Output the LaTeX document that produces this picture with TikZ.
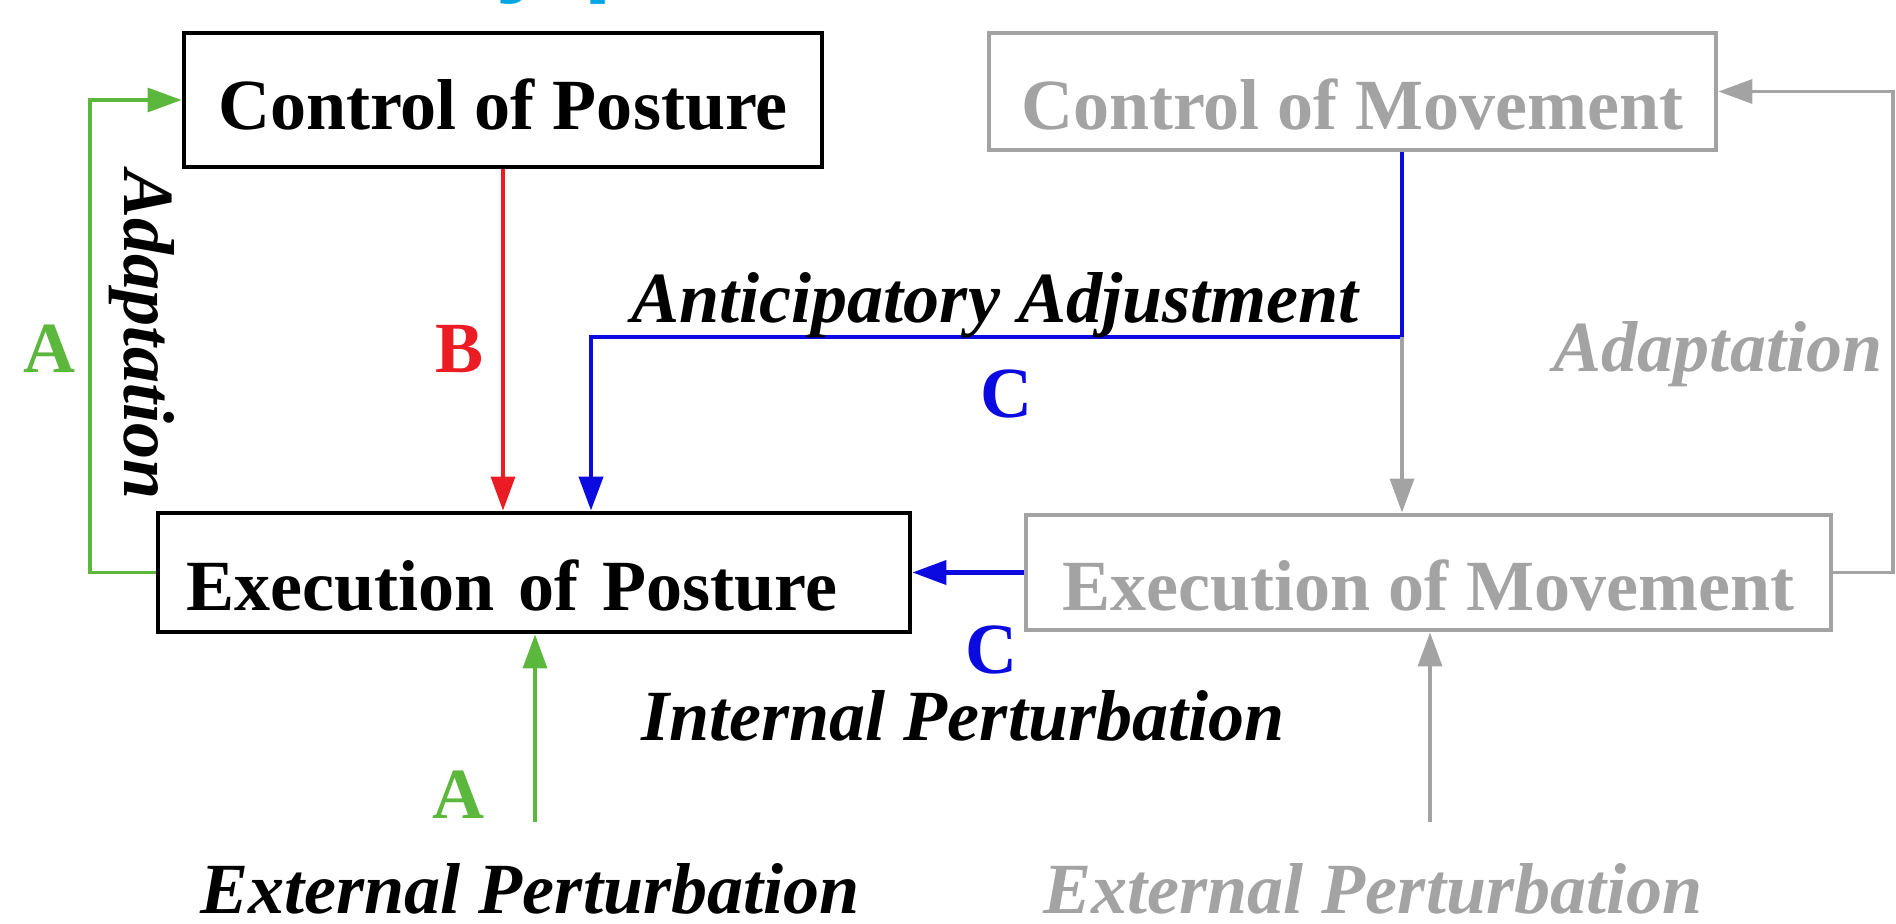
\documentclass[tikz,border=0pt]{standalone}
\usepackage{fontspec}
\setmainfont{Liberation Serif}
\setsansfont{Liberation Sans}
\usetikzlibrary{arrows.meta}

\definecolor{adaptgreen}{RGB}{92,184,60}
\definecolor{fbred}{RGB}{236,28,36}
\definecolor{antblue}{RGB}{10,10,225}
\definecolor{fadegray}{RGB}{163,163,163}
\definecolor{titleblue}{RGB}{0,166,228}

\begin{document}
\begin{tikzpicture}[
    box/.style={draw, line width=1.4pt, inner sep=0pt, text height=7.5mm, text depth=0pt, font=\fontsize{20.5}{24}\selectfont\bfseries},
    faded/.style={draw=fadegray, text=fadegray},
    tag/.style={font=\fontsize{20.5}{24}\selectfont\bfseries, anchor=base},
    note/.style={font=\fontsize{20.5}{24}\selectfont\bfseries\itshape, anchor=base},
    link/.style={line width=1pt, -{Triangle[length=3.4mm,width=2.4mm]}}
]
    \useasboundingbox (0,0) rectangle (18.96,-9.24);
    \clip (0,0) rectangle (18.96,-9.24);

    % Title (cut off)
    \node[font=\fontsize{30}{36}\selectfont\sffamily\bfseries, text=titleblue, anchor=base west, inner sep=0pt] (title) at (4.95,0.17) {y p};

    % Posture boxes
    \node[box, minimum width=63.8mm, minimum height=13.4mm, text height=6mm] (postctrl) at (5.03,-1.00) {Control of Posture};
    \node[box, minimum width=75.2mm, minimum height=11.9mm, text width=69.6mm, inner xsep=2.8mm, align=left] (expost) at (5.34,-5.725) {Execution of Posture};

    % Movement boxes
    \node[box, faded, minimum width=72.7mm, minimum height=11.7mm, text height=7.7mm] (movctrl) at (13.525,-0.915) {Control of Movement};
    \node[box, faded, minimum width=80.5mm, minimum height=11.5mm] (exmov) at (14.285,-5.725) {Execution of Movement};

    % Helper points
    \coordinate (leftrail) at (0.90,0);
    \coordinate (rightrail) at (18.93,0);
    \coordinate (split) at (14.02,-3.37);
    \coordinate (adjin) at (5.91,-3.37);
    \coordinate (extpos) at (5.35,-8.22);
    \coordinate (extmov) at (14.30,-8.22);

    % Adaptation loop (posture)
    \draw[link, adaptgreen] (expost.west) -- (expost.west -| leftrail) |- (postctrl.west);
    \node[tag, text=adaptgreen] (adapta) at (0.50,-3.73) {A};
    \node[font=\fontsize{20.5}{24}\selectfont\bfseries\itshape, rotate=-90] (adaptpost) at (1.42,-3.35) {Adaptation};

    % Feedback
    \draw[link, fbred] (postctrl.south) -- (postctrl.south |- expost.north);
    \node[tag, text=fbred] (fbb) at (4.60,-3.73) {B};

    % Anticipatory adjustment
    \draw[line width=1.2pt, antblue] (split |- movctrl.south) -- (split);
    \draw[link, line width=1.2pt, antblue] (split) -- (adjin) -- (adjin |- expost.north);
    \draw[link, fadegray] (split) -- (split |- exmov.north);
    \node[note] (antadj) at (9.95,-3.22) {Anticipatory Adjustment};
    \node[tag, text=antblue] (antc) at (10.07,-4.18) {C};

    % Adaptation loop (movement)
    \draw[link, fadegray] (exmov.east) -- (exmov.east -| rightrail) |- (movctrl.east);
    \node[note, text=fadegray] (adaptmov) at (17.18,-3.72) {Adaptation};

    % Internal perturbation
    \draw[link, line width=1.2pt, antblue] (exmov.west) -- (expost.east);
    \node[tag, text=antblue] (intc) at (9.92,-6.73) {C};
    \node[note] (intpert) at (9.63,-7.40) {Internal Perturbation};

    % External perturbations
    \draw[link, adaptgreen] (extpos) -- (extpos |- expost.south);
    \node[tag, text=adaptgreen] (exta) at (4.59,-8.18) {A};
    \node[note] (extpost) at (5.30,-9.13) {External Perturbation};

    \draw[link, fadegray] (extmov) -- (extmov |- exmov.south);
    \node[note, text=fadegray] (extmove) at (13.73,-9.13) {External Perturbation};

\end{tikzpicture}
\end{document}
